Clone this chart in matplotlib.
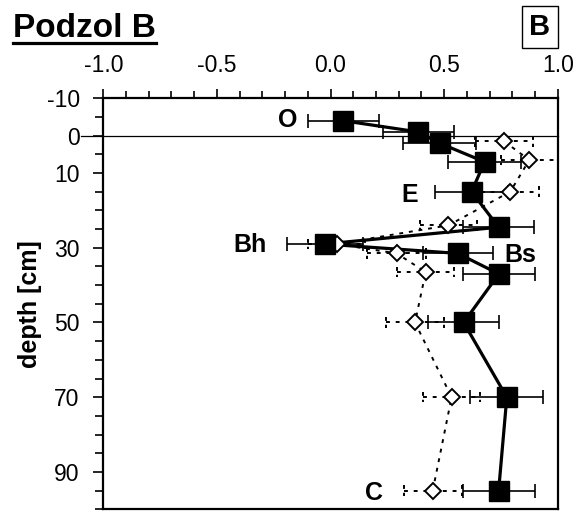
import matplotlib
matplotlib.use("Agg")
import matplotlib.pyplot as plt
from matplotlib.lines import Line2D
from matplotlib.ticker import FixedLocator, MultipleLocator

plt.rcParams["font.family"] = ["Liberation Sans", "DejaVu Sans"]

# filled squares (solid line)
sq_depth = [-4, -1, 2, 7, 15, 24.5, 29, 31.5, 37, 50, 70, 95]
sq_val = [0.056, 0.387, 0.48, 0.678, 0.621, 0.74, -0.026, 0.56, 0.741, 0.586, 0.776, 0.74]
sq_err = [0.157, 0.157, 0.16, 0.16, 0.16, 0.157, 0.167, 0.155, 0.16, 0.157, 0.16, 0.158]

# open diamonds (dotted line)
di_depth = [1.5, 6.5, 15, 24, 29, 31.5, 36.5, 50, 70, 95]
di_val = [0.764, 0.875, 0.791, 0.519, 0.027, 0.291, 0.419, 0.372, 0.533, 0.45]
di_err = [0.128, 0.125, 0.128, 0.125, 0.127, 0.13, 0.125, 0.126, 0.125, 0.127]

horizons = ["O", "E", "Bh", "Bs", "C"]
hz_x = [-0.19, 0.347, -0.354, 0.836, 0.19]
hz_y = [-4.3, 15.8, 29.2, 32.0, 95.6]

x_ticks = [-1.0, -0.5, 0.0, 0.5, 1.0]
y_ticks = [-10, 0, 10, 30, 50, 70, 90]

fig = plt.figure(figsize=(5.78, 5.11), dpi=100)
ax = fig.add_axes([0.1787, 0.0033, 0.7862, 0.8043])

ax.axhline(0, xmin=-0.05, xmax=1, color="black", lw=0.9, clip_on=False, zorder=1)

# diamonds series
ax.plot(di_val, di_depth, color="black", lw=1.4, ls=(0, (2, 3)), zorder=2)
eb = ax.errorbar(di_val, di_depth, xerr=di_err, fmt="none", ecolor="black",
                 elinewidth=1.4, capsize=0, zorder=2)
eb[2][0].set_linestyle((0, (2, 3)))
lo = [v - e for v, e in zip(di_val, di_err)]
hi = [v + e for v, e in zip(di_val, di_err)]
ymin = [d - 1.4 for d in di_depth]
ymax = [d + 1.4 for d in di_depth]
ax.vlines(lo + hi, ymin + ymin, ymax + ymax, color="black", lw=1.4,
          linestyles=(0, (2, 2)), zorder=2)
ax.plot(di_val, di_depth, ls="none", marker="D", ms=8, mfc="white",
        mec="black", mew=1.4, zorder=4)

# squares series
ax.errorbar(sq_val, sq_depth, xerr=sq_err, fmt="none", ecolor="black",
            elinewidth=1.2, capsize=5, capthick=1.2, zorder=3)
ax.plot(sq_val, sq_depth, color="black", lw=2.3, zorder=3)
ax.plot(sq_val, sq_depth, ls="none", marker="s", ms=15, mfc="black",
        mec="black", zorder=5)

for name, x, y in zip(horizons, hz_x, hz_y):
    ax.text(x, y, name, fontsize=18, fontweight="bold", ha="center",
            va="center", zorder=6)

ax.set_xlim(-1.0, 1.0)
ax.set_ylim(100, -10)
ax.xaxis.tick_top()
ax.xaxis.set_major_locator(FixedLocator(x_ticks))
ax.xaxis.set_minor_locator(MultipleLocator(0.1))
ax.set_xticklabels([f"{t:.1f}" for t in x_ticks])
ax.yaxis.set_major_locator(FixedLocator(y_ticks))
ax.yaxis.set_minor_locator(MultipleLocator(5))
ax.set_yticklabels([str(t) for t in y_ticks])

ax.tick_params(axis="both", which="both", direction="out", width=1.2,
               labelsize=16.5, color="black")
ax.tick_params(axis="x", which="major", length=6.5, pad=9)
ax.tick_params(axis="x", which="minor", length=5)
ax.tick_params(axis="y", which="major", length=7, pad=10)
ax.tick_params(axis="y", which="minor", length=6)
for s in ax.spines.values():
    s.set_linewidth(1.6)

ax.set_ylabel("depth [cm]", fontsize=18, fontweight="bold")
ax.yaxis.set_label_coords(-0.135, 0.5)

title = fig.text(13 / 578, 1 - 37 / 511, "Podzol B", fontsize=24,
                 fontweight="bold", ha="left", va="baseline")
fig.text(540 / 578, 1 - 27 / 511, "B", fontsize=21, fontweight="bold",
         ha="center", va="center",
         bbox=dict(boxstyle="square,pad=0.25", fc="white", ec="black", lw=1))

renderer = fig.canvas.get_renderer()
bb = title.get_window_extent(renderer)
uy = 1 - 43 / 511
fig.add_artist(Line2D([bb.x0 / 578, bb.x1 / 578], [uy, uy], color="black",
                      lw=2.3, transform=fig.transFigure))

fig.savefig("out.png", dpi=100)
